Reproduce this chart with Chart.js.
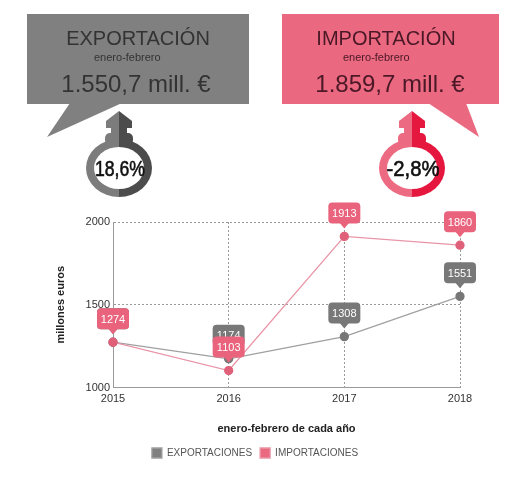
<!DOCTYPE html>
<html>
<head>
<meta charset="utf-8">
<script src="https://cdn.jsdelivr.net/npm/chart.js@4.4.1/dist/chart.umd.min.js"></script>
<style>
  html, body { margin: 0; padding: 0; background: #fff; }
  #wrap { position: relative; width: 516px; height: 486px; overflow: hidden; }
  #chart { position: absolute; left: 0; top: 0; }
  #top { position: absolute; left: 0; top: 0; pointer-events: none; }
  #top text { font-family: "Liberation Sans", Arial, sans-serif; }
</style>
</head>
<body>
<div id="wrap">
  <canvas id="chart" width="516" height="486"></canvas>
  <svg id="top" width="516" height="210" xmlns="http://www.w3.org/2000/svg">
    <!-- exportacion box -->
    <rect x="27" y="14" width="222" height="90" fill="#808080"/>
    <polygon points="70,103 122,103 47,137" fill="#808080"/>
    <text x="138" y="45" font-size="20" text-anchor="middle" fill="#333">EXPORTACIÓN</text>
    <text x="94" y="61" font-size="11" fill="#333">enero-febrero</text>
    <text x="136" y="92" font-size="24" text-anchor="middle" fill="#333">1.550,7 mill. €</text>

    <!-- importacion box -->
    <rect x="282" y="14" width="217" height="90" fill="#ea6880"/>
    <polygon points="428,103 466,103 479,137" fill="#ea6880"/>
    <text x="386" y="45" font-size="20" text-anchor="middle" fill="#4a1826">IMPORTACIÓN</text>
    <text x="343" y="61" font-size="11" fill="#4a1826">enero-febrero</text>
    <text x="390" y="92" font-size="24" text-anchor="middle" fill="#4a1826">1.859,7 mill. €</text>

    <!-- ring icons -->
    <g id="ringL"></g>
    <g id="ringR"></g>
  </svg>
</div>
<script>
// data
const years = ["2015", "2016", "2017", "2018"];
const exportaciones = [1274, 1174, 1308, 1551];
const importaciones = [1274, 1103, 1913, 1860];
const yTicks = [1000, 1500, 2000];

// ring icons above the chart
function drawRing(id, cx, light, dark, label, textW) {
  const g = document.getElementById(id);
  const cy = 168;
  const shape = `
      <polygon points="${cx - 13},128 ${cx - 13},121 ${cx},111 ${cx + 13},121 ${cx + 13},128"/>
      <rect x="${cx - 8}" y="127" width="16" height="7"/>
      <rect x="${cx - 14}" y="133" width="28" height="12" rx="5"/>
      <ellipse cx="${cx}" cy="${cy}" rx="33" ry="29"/>`;
  g.innerHTML = `
    <clipPath id="${id}-l"><rect x="0" y="0" width="${cx}" height="210"/></clipPath>
    <clipPath id="${id}-r"><rect x="${cx}" y="0" width="516" height="210"/></clipPath>
    <g clip-path="url(#${id}-l)" fill="${light}">${shape}</g>
    <g clip-path="url(#${id}-r)" fill="${dark}">${shape}</g>
    <ellipse cx="${cx}" cy="${cy}" rx="25" ry="21" fill="#fff"/>
    <text x="${cx + 1}" y="${cy + 8}" font-size="22" text-anchor="middle"
      textLength="${textW}" lengthAdjust="spacingAndGlyphs" fill="#111"
      stroke="#111" stroke-width="0.6">${label}</text>`;
}
drawRing("ringL", 119, "#7c7c7c", "#4c4c4c", "18,6%", 50);
drawRing("ringR", 412, "#ec6a82", "#e5173f", "-2,8%", 53);

// value tags above each point
const valueTags = {
  id: "valueTags",
  afterDatasetsDraw(chart) {
    const ctx = chart.ctx;
    [0, 1].forEach(function (di) {
      const ds = chart.data.datasets[di];
      const meta = chart.getDatasetMeta(di);
      meta.data.forEach(function (pt, i) {
        const w = 32, h = 21, r = 4;
        const x = pt.x - w / 2;
        const yb = pt.y - 13;
        const y = yb - h;
        ctx.save();
        ctx.fillStyle = ds.tagColor;
        ctx.beginPath();
        ctx.roundRect(x, y, w, h, r);
        ctx.fill();
        ctx.beginPath();
        ctx.moveTo(pt.x - 5, yb - 1);
        ctx.lineTo(pt.x + 5, yb - 1);
        ctx.lineTo(pt.x, pt.y - 8);
        ctx.closePath();
        ctx.fill();
        ctx.fillStyle = "#fff";
        ctx.font = "11px 'Liberation Sans', Arial, sans-serif";
        ctx.textAlign = "center";
        ctx.textBaseline = "middle";
        ctx.fillText(String(ds.data[i]), pt.x, y + h / 2 + 1);
        ctx.restore();
      });
    });
  }
};

const font = { family: "'Liberation Sans', Arial, sans-serif", size: 11 };
const gridStyle = { color: "#9a9a9a", lineWidth: 1, drawTicks: false };
const borderStyle = { dash: [2, 2], color: "#9a9a9a" };

new Chart(document.getElementById("chart"), {
  type: "line",
  data: {
    labels: years,
    datasets: [
      {
        label: "EXPORTACIONES",
        data: exportaciones,
        borderColor: "#a0a0a0",
        backgroundColor: "#808080",
        pointBackgroundColor: "#777",
        pointBorderColor: "#777",
        tagColor: "#787878",
        borderWidth: 1.3,
        pointRadius: 4,
        tension: 0,
        order: 1,
      },
      {
        label: "IMPORTACIONES",
        data: importaciones,
        borderColor: "#e995a7",
        backgroundColor: "#ea6880",
        pointBackgroundColor: "#e0607a",
        pointBorderColor: "#e0607a",
        tagColor: "#e9637d",
        borderWidth: 1.3,
        pointRadius: 4,
        tension: 0,
        order: 0,
      },
    ],
  },
  options: {
    responsive: false,
    animation: false,
    events: [],
    layout: { padding: { top: 222, left: 50, right: 56, bottom: 18 } },
    scales: {
      x: {
        offset: false,
        grid: gridStyle,
        border: borderStyle,
        ticks: { font: font, color: "#333", padding: 5, maxRotation: 0 },
        title: {
          display: true,
          text: "enero-febrero de cada año",
          font: { family: font.family, size: 11, weight: "bold" },
          color: "#222",
          padding: { top: 12, bottom: 4 },
        },
      },
      y: {
        min: 1000,
        max: 2000,
        grid: gridStyle,
        border: borderStyle,
        afterBuildTicks(scale) {
          scale.ticks = yTicks.map((v) => ({ value: v }));
        },
        afterFit(scale) {
          scale.width = 63;
        },
        ticks: {
          font: font,
          color: "#333",
          padding: 3,
          callback: (v) => String(v),
        },
        title: {
          display: true,
          text: "millones euros",
          font: { family: font.family, size: 11, weight: "bold" },
          color: "#222",
        },
      },
    },
    plugins: {
      tooltip: { enabled: false },
      legend: {
        position: "bottom",
        labels: {
          font: { family: font.family, size: 10 },
          color: "#555",
          boxWidth: 10,
          boxHeight: 10,
          padding: 8,
          sort: (a, b) => a.datasetIndex - b.datasetIndex,
        },
      },
    },
  },
  plugins: [valueTags],
});
</script>
</body>
</html>
